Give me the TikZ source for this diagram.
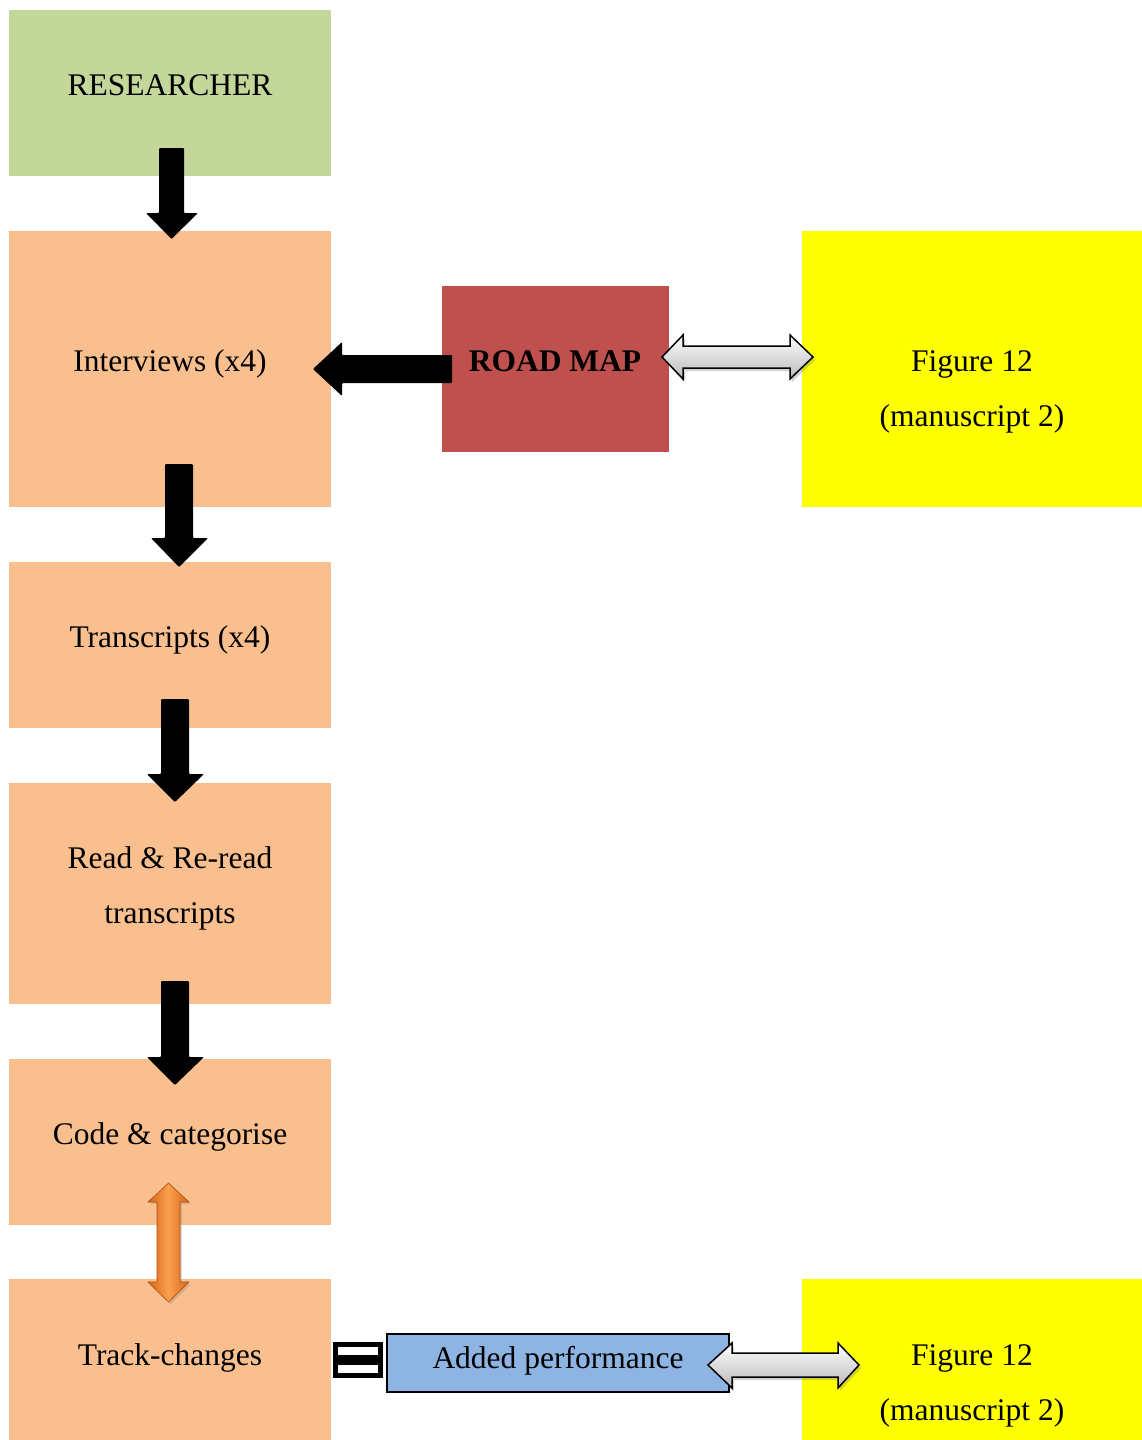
\documentclass[tikz,border=0pt]{standalone}
\usepackage{fontspec}
\setmainfont{Liberation Serif}
\usetikzlibrary{shadows}
\definecolor{boxgreen}{RGB}{196,215,155}
\definecolor{boxorange}{RGB}{250,191,143}
\definecolor{roadred}{RGB}{192,80,77}
\definecolor{figyellow}{RGB}{255,255,0}
\definecolor{addblue}{RGB}{141,180,226}
\definecolor{arrowdark}{RGB}{214,100,20}
\definecolor{arrowlight}{RGB}{250,160,80}
\begin{document}
\begin{tikzpicture}[x=1pt,y=-1pt,
  box/.style={draw=none,inner sep=0pt,outer sep=0pt,anchor=north west},
  lbl/.style={inner sep=0pt,anchor=base,font=\fontsize{31.5}{55}\selectfont},
  blockarrow/.style={fill=black,rounded corners=1pt},
  grayarrow/.style={draw=black,line width=1.5pt,top color=white,bottom color=gray!55,
    drop shadow={shadow xshift=2pt,shadow yshift=-3pt,opacity=0.35}},
  orangearrow/.style={draw=arrowdark!80!black,line width=0.6pt,left color=arrowdark,
    right color=arrowdark,middle color=arrowlight,
    drop shadow={shadow xshift=2pt,shadow yshift=-2pt,opacity=0.3}}]
\useasboundingbox (0,0) rectangle (1142,1440);

% boxes of the left column
\node[box,fill=boxgreen,minimum width=322pt,minimum height=166pt] (res) at (9,10) {};
\node[box,fill=boxorange,minimum width=322pt,minimum height=276pt] (int) at (9,231) {};
\node[box,fill=boxorange,minimum width=322pt,minimum height=166pt] (tra) at (9,562) {};
\node[box,fill=boxorange,minimum width=322pt,minimum height=221pt] (rea) at (9,783) {};
\node[box,fill=boxorange,minimum width=322pt,minimum height=166pt] (cod) at (9,1059) {};
\node[box,fill=boxorange,minimum width=322pt,minimum height=161pt] (trk) at (9,1279) {};

% boxes on the right
\node[box,fill=roadred,minimum width=227pt,minimum height=166pt] (map) at (442,286) {};
\node[box,fill=figyellow,minimum width=340pt,minimum height=276pt] (figa) at (802,231) {};
\node[box,fill=figyellow,minimum width=340pt,minimum height=161pt] (figb) at (802,1279) {};
\node[box,draw=black,line width=1.5pt,fill=addblue,minimum width=342pt,minimum height=58pt] (add) at (387,1334) {};

% labels
\node[lbl] (tres) at (170,95) {RESEARCHER};
\node[lbl] (tint) at (170,371) {Interviews (x4)};
\node[lbl] (ttra) at (170,647) {Transcripts (x4)};
\node[lbl] (trea1) at (170,868) {Read \& Re-read};
\node[lbl] (trea2) at (170,923) {transcripts};
\node[lbl] (tcod) at (170,1144) {Code \& categorise};
\node[lbl] (ttrk) at (170,1365) {Track-changes};
\node[lbl,font=\fontsize{31.5}{55}\selectfont\bfseries] (tmap) at (555,371) {ROAD MAP};
\node[lbl] (tfiga1) at (972,371) {Figure 12};
\node[lbl] (tfiga2) at (972,426) {(manuscript 2)};
\node[lbl] (tfigb1) at (972,1365) {Figure 12};
\node[lbl] (tfigb2) at (972,1420) {(manuscript 2)};
\node[lbl] (tadd) at (558,1368) {Added performance};

% black block arrows down the column
\fill[blockarrow] (159,148) -- (184,148) -- (184,213) -- (198,213) -- (171.5,239) -- (146,213) -- (159,213) -- cycle;
\fill[blockarrow] (165,464) -- (193,464) -- (193,538) -- (208,538) -- (179,567) -- (151,538) -- (165,538) -- cycle;
\fill[blockarrow] (161,699) -- (189,699) -- (189,774) -- (204,774) -- (175,802) -- (147,774) -- (161,774) -- cycle;
\fill[blockarrow] (161,981) -- (189,981) -- (189,1057) -- (204,1057) -- (175,1085) -- (147,1057) -- (161,1057) -- cycle;

% black arrow from the road map to the interviews
\fill[blockarrow] (452,355) -- (342,355) -- (342,342) -- (313,369) -- (342,396) -- (342,383) -- (452,383) -- cycle;

% grey double arrows to the figures
\path[grayarrow] (662,357) -- (683,335) -- (683,346) -- (790,346) -- (790,335) -- (813,357)
  -- (790,379) -- (790,368) -- (683,368) -- (683,379) -- cycle;
\path[grayarrow] (708,1365) -- (732,1343) -- (732,1353) -- (838,1353) -- (838,1343) -- (859,1365)
  -- (838,1388) -- (838,1377) -- (732,1377) -- (732,1388) -- cycle;

% orange double arrow between coding and track-changes
\path[orangearrow] (168.5,1183) -- (189,1202) -- (180,1202) -- (180,1282) -- (189,1282) -- (168.5,1302)
  -- (148,1282) -- (157,1282) -- (157,1202) -- (148,1202) -- cycle;

% equals sign beside track-changes
\fill[black] (333,1342) rectangle (383,1378);
\fill[white] (338,1347) rectangle (378,1355);
\fill[white] (338,1365) rectangle (378,1373);
\end{tikzpicture}
\end{document}
